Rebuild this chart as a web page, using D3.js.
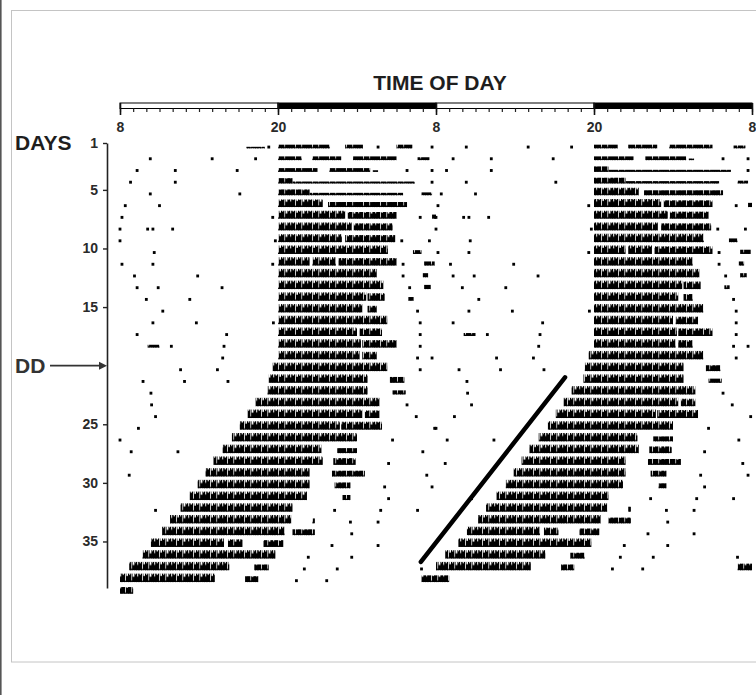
<!DOCTYPE html>
<html>
<head>
<meta charset="utf-8">
<script src="https://cdn.jsdelivr.net/npm/d3@7"></script>
<style>
  body { margin: 0; background: #fff; }
  svg { display: block; font-family: "Liberation Sans", Arial, sans-serif; }
</style>
</head>
<body>
<div id="chart"></div>
<script>
var svgWidth = 756;
var svgHeight = 695;

// each day runs 8:00 -> 8:00 next day, so hours go 8..32 (26 = 2:00 am)
// bouts: [start, end, relative activity level]
var bouts = [
  [[17.6,19.0,0.2],[20.0,23.95,0.45],[25.1,26.45,0.45],[29.0,30.2,0.45]],
  [[20.0,21.8,0.45],[22.6,24.8,0.45],[25.7,29.0,0.45],[30.6,31.5,0.35]],
  [[20.0,23.0,0.45],[23.9,27.0,0.45],[27.2,27.6,0.2]],
  [[20.0,21.1,0.65],[21.1,30.4,0.25]],
  [[20.0,22.4,0.7],[22.4,29.5,0.3],[30.9,31.7,0.35]],
  [[20.0,23.4,0.9],[23.8,29.8,0.6]],
  [[20.0,25.1,0.95],[25.3,29.0,0.8],[31.7,32.0,0.5]],
  [[20.0,25.6,0.95],[25.75,28.7,0.85]],
  [[20.0,24.85,0.95],[25.1,28.9,0.85]],
  [[20.0,28.35,1],[30.25,30.9,0.45]],
  [[20.0,22.4,1],[22.6,24.4,1],[24.6,29.0,0.9],[31.1,31.9,0.5]],
  [[20.0,27.5,1],[31.0,31.4,0.5]],
  [[20.0,28.0,1],[31.1,31.6,0.5]],
  [[20.0,26.7,1],[26.8,28.1,0.9],[29.9,30.3,0.45]],
  [[20.0,26.4,1],[26.8,27.5,0.8]],
  [[20.0,28.3,1]],
  [[20.0,26.0,1],[26.2,27.9,0.9]],
  [[10.1,11.0,0.35],[20.0,26.3,1],[26.4,29.0,0.9]],
  [[20.0,26.2,1],[26.4,27.5,0.9]],
  [[19.6,28.3,1]],
  [[19.3,26.8,1],[28.5,29.6,0.7]],
  [[19.2,26.8,1],[28.7,29.7,0.5]],
  [[18.3,27.7,1]],
  [[17.7,26.4,1],[26.6,27.7,0.9]],
  [[17.1,24.7,1],[24.8,27.9,0.95]],
  [[16.5,26.0,1]],
  [[15.8,23.3,1],[24.5,26.0,0.6]],
  [[15.1,23.4,1],[24.2,25.9,0.8]],
  [[14.5,22.4,1],[24.1,26.6,0.7]],
  [[13.9,22.4,1],[24.3,25.5,0.7]],
  [[13.3,22.2,1],[24.9,25.5,0.6]],
  [[12.6,21.1,1]],
  [[11.8,21.0,1],[22.6,22.8,0.6]],
  [[11.2,20.5,1],[21.1,22.8,0.7]],
  [[10.35,15.9,1],[16.2,17.3,0.9],[18.9,20.4,0.8]],
  [[9.7,19.8,1]],
  [[8.7,16.3,1],[18.2,19.3,0.7]],
  [[8.0,15.2,1],[17.5,18.5,0.7],[30.9,32.0,0.8]],
  [[8.0,9.0,0.8]]
];

// isolated single counts
var spikes = [
  [19.3,27.6,31.7], [10.3,15.0,18.3], [9.3,12.2,16.9,29.8,31.7], [8.8,12.2,31.7],
  [10.3,17.1], [8.4,11.0], [8.15,19.6,30.8], [8.0,10.1,10.5,12.0],
  [8.0,19.8,29.4,31.5], [10.6], [8.15,10.5,19.6,29.5], [9.1,13.9,29.5],
  [9.3,10.9,15.75,30.0], [10.0,13.3], [11.25,30.6], [10.5,13.8,19.65,30.8],
  [9.3,16.1,30.8], [11.9,15.9,30.8], [15.8,30.6,31.7], [12.6,15.4,30.8],
  [9.75,12.9,16.2], [10.35], [10.4,29.8], [10.7,30.5],
  [9.4,31.9], [8.0,28.7], [8.85,12.4,31.0], [28.4],
  [8.7,31.3], [28.1,31.7], [28.4], [10.7,24.3,27.8,30.6],
  [25.5,27.6], [25.6], [24.1,27.6], [22.3,25.6],
  [22.0,24.5,30.9], [21.4,23.7], []
];

var dayTicks = [1, 5, 10, 15, 25, 30, 35];
var hourTicks = [0, 12, 24, 36, 48];
var hourLabels = ["8", "20", "8", "20", "8"];
var ldState = ["light", "dark", "light", "dark"];
var ddDay = 20;
// free-running onset fit: [day, hour from 8:00 on double plot]
var tauFit = [[21.0, 33.8], [36.75, 22.85]];

var svg = d3.select("#chart")
  .append("svg")
  .attr("width", svgWidth)
  .attr("height", svgHeight);

// frame
svg.append("rect")
  .attr("x", 11.5).attr("y", 10.5)
  .attr("width", 760).attr("height", 651.5)
  .attr("fill", "none").attr("stroke", "#c4c4c4");
svg.append("rect")
  .attr("x", 0).attr("y", 0)
  .attr("width", 1.6).attr("height", svgHeight)
  .attr("fill", "#555");

var x = d3.scaleLinear().domain([0, 48]).range([120, 752]);
var yDay = d3.scaleLinear().domain([1, 38.97]).range([143, 588]);
var level = d3.scaleLinear().domain([0, 1]).range([0, 8.5]);

// activity texture (jagged histogram look)
var defs = svg.append("defs");
var pat = defs.append("pattern")
  .attr("id", "act")
  .attr("patternUnits", "userSpaceOnUse")
  .attr("x", 0).attr("y", -9)
  .attr("width", 17).attr("height", 9);
pat.append("rect").attr("width", 17).attr("height", 9).attr("fill", "#000");
[[1.2,0,1,3.4],[3.6,0,1.4,1.6],[6.2,0,0.8,7.6],[7.4,0,1.6,2.8],
 [10.2,0,1,1.8],[12.4,0,0.7,7.4],[13.6,0,1.8,3.6],[16.2,0,0.8,1.4]].forEach(function(n) {
  pat.append("rect")
    .attr("x", n[0]).attr("y", n[1])
    .attr("width", n[2]).attr("height", n[3])
    .attr("fill", "#fff");
});

// title
svg.append("text")
  .attr("x", 440).attr("y", 90)
  .attr("text-anchor", "middle")
  .attr("font-size", 21).attr("font-weight", "bold")
  .attr("fill", "#1e1e1e")
  .text("TIME OF DAY");

// light/dark bar
var barY = 103, barH = 5.5;
svg.append("g").selectAll("rect")
  .data(ldState)
  .enter().append("rect")
  .attr("x", (d, i) => x(hourTicks[i]))
  .attr("y", barY)
  .attr("width", (d, i) => x(hourTicks[i + 1]) - x(hourTicks[i]))
  .attr("height", barH)
  .attr("fill", d => d == "dark" ? "#000" : "#fff")
  .attr("stroke", "#000")
  .attr("stroke-width", 1);

var minorAxis = svg.append("g")
  .attr("transform", "translate(0," + (barY + barH) + ")")
  .call(d3.axisBottom(x).tickValues(d3.range(0, 49)).tickSize(3.5).tickFormat(""));
minorAxis.select(".domain").remove();
minorAxis.selectAll("line").attr("stroke", "#222").attr("stroke-width", 1.2);

var majorAxis = svg.append("g")
  .attr("transform", "translate(0," + barY + ")")
  .call(d3.axisBottom(x).tickValues(hourTicks).tickSize(12).tickPadding(7)
    .tickFormat((d, i) => hourLabels[i]));
majorAxis.select(".domain").remove();
majorAxis.selectAll("line").attr("stroke", "#111").attr("stroke-width", 1.6);
majorAxis.selectAll("text")
  .attr("font-size", 14).attr("font-weight", "bold")
  .attr("font-family", "Liberation Sans, Arial, sans-serif")
  .attr("fill", "#2a2a2a");

// day axis
var dayAxis = svg.append("g")
  .attr("transform", "translate(107,0)")
  .call(d3.axisLeft(yDay).tickValues(dayTicks).tickSize(4).tickSizeOuter(0).tickPadding(5));
dayAxis.select(".domain").attr("stroke", "#222").attr("stroke-width", 1.6);
dayAxis.selectAll("line").attr("stroke", "#222").attr("stroke-width", 1.4);
dayAxis.selectAll("text")
  .attr("font-size", 14).attr("font-weight", "bold")
  .attr("font-family", "Liberation Sans, Arial, sans-serif")
  .attr("fill", "#2a2a2a");

svg.append("text")
  .attr("x", 15).attr("y", 150)
  .attr("font-size", 21).attr("font-weight", "bold")
  .attr("fill", "#1e1e1e")
  .text("DAYS");

// DD marker
svg.append("text")
  .attr("x", 15).attr("y", yDay(ddDay) + 7.5)
  .attr("font-size", 21).attr("font-weight", "bold")
  .attr("fill", "#333")
  .text("DD");
svg.append("line")
  .attr("x1", 50).attr("x2", 100)
  .attr("y1", yDay(ddDay)).attr("y2", yDay(ddDay))
  .attr("stroke", "#333").attr("stroke-width", 1.8);
svg.append("path")
  .attr("d", "M99," + (yDay(ddDay) - 4) + "L107," + yDay(ddDay) + "L99," + (yDay(ddDay) + 4) + "Z")
  .attr("fill", "#333");

// double plotted actogram: row d = day d (left) and day d+1 (right)
var rows = svg.append("g").selectAll("g")
  .data(bouts)
  .enter().append("g")
  .attr("transform", (d, i) => "translate(0," + (yDay(i + 1) + 5.5) + ")");

function drawHalf(sel, shift, pick) {
  sel.each(function(d, i) {
    var day = pick(i);
    if (day < 0 || day >= bouts.length) return;
    var g = d3.select(this);
    g.selectAll(null)
      .data(bouts[day])
      .enter().append("rect")
      .attr("x", b => x(b[0] - 8 + shift))
      .attr("width", b => x(b[1] - 8 + shift) - x(b[0] - 8 + shift))
      .attr("y", b => -level(b[2]))
      .attr("height", b => level(b[2]))
      .attr("fill", "url(#act)");
    g.selectAll(null)
      .data(spikes[day])
      .enter().append("rect")
      .attr("x", h => x(h - 8 + shift) - 1.4)
      .attr("y", -2.9)
      .attr("width", 2.8)
      .attr("height", 2.9)
      .attr("fill", "#000");
  });
}
drawHalf(rows, 0, i => i);
drawHalf(rows, 24, i => i + 1);

// period fit line
svg.append("path")
  .datum(tauFit)
  .attr("d", d3.line().x(d => x(d[1])).y(d => yDay(d[0])))
  .attr("stroke", "#000")
  .attr("stroke-width", 4.5)
  .attr("stroke-linecap", "round")
  .attr("fill", "none");
</script>
</body>
</html>
